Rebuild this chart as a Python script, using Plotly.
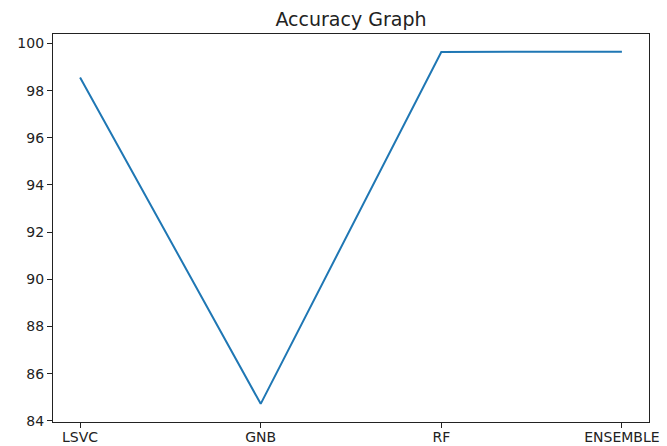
import plotly.graph_objects as go

models = ["LSVC", "GNB", "RF", "ENSEMBLE"]
accuracy = [98.56, 84.72, 99.64, 99.65]
y_ticks = [84, 86, 88, 90, 92, 94, 96, 98, 100]

fig = go.Figure()
fig.add_trace(go.Scatter(
    x=list(range(len(models))), y=accuracy, mode="lines",
    line=dict(color="#1f77b4", width=2), showlegend=False,
))

font = "DejaVu Sans, Verdana, sans-serif"
fig.update_layout(
    width=667, height=446,
    margin=dict(l=53, r=18, t=34, b=24, autoexpand=False),
    paper_bgcolor="white", plot_bgcolor="white",
    title=dict(text="Accuracy Graph", x=(53 + 649) / 2 / 667, xanchor="center",
               y=1 - 19 / 446, yanchor="middle",
               font=dict(family=font, size=19, color="#222222")),
    xaxis=dict(
        range=[-0.15, 3.15], tickmode="array", automargin=False,
        tickvals=list(range(len(models))), ticktext=models,
        showgrid=False, zeroline=False, showline=True, mirror=True,
        linecolor="#222222", linewidth=1.2, ticks="outside", ticklen=5,
        ticklabelstandoff=-3,
        tickcolor="#222222", tickfont=dict(family=font, size=14, color="#222222"),
    ),
    yaxis=dict(
        range=[83.95, 100.40], tickmode="array", tickvals=y_ticks, automargin=False,
        ticktext=[str(v) for v in y_ticks],
        showgrid=False, zeroline=False, showline=True, mirror=True,
        linecolor="#222222", linewidth=1.2, ticks="outside", ticklen=5,
        tickcolor="#222222", tickfont=dict(family=font, size=14, color="#222222"),
    ),
)

fig.write_html(
    "out.html",
    config={"displayModeBar": False},
    post_script="document.body.style.margin='0';document.body.style.overflow='hidden';",
)
